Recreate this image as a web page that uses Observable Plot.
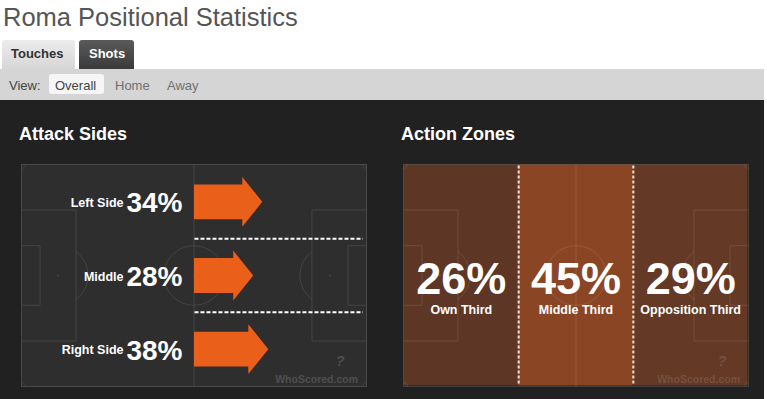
<!DOCTYPE html>
<html>
<head>
<meta charset="utf-8">
<script src="https://cdn.jsdelivr.net/npm/d3@7"></script>
<script src="https://cdn.jsdelivr.net/npm/@observablehq/plot@0.6"></script>
<style>
  html, body { margin: 0; padding: 0; background: #ffffff; }
  body { width: 767px; height: 399px; position: relative; overflow: hidden;
         font-family: 'Liberation Sans', Arial, Helvetica, sans-serif; }
  .abs { position: absolute; }
  .t { position: absolute; line-height: 1; white-space: nowrap; }
  .plotbox { position: absolute; }
  .plotbox svg { display: block; overflow: visible; }
</style>
</head>
<body>
<div id="root"></div>
<script>
// ---------- data ----------
const chartTitle = "Roma Positional Statistics";
const tabLabels = ["Touches", "Shots"];
const viewLabels = ["Overall", "Home", "Away"];
const panelTitles = ["Attack Sides", "Action Zones"];

const sideLabels = ["Left Side", "Middle", "Right Side"];
const sideValues = [34, 28, 38];

const zoneLabels = ["Own Third", "Middle Third", "Opposition Third"];
const zoneValues = [26, 45, 29];

const watermark = "WhoScored.com";

// ---------- helpers ----------
const FONT = "'Liberation Sans', Arial, Helvetica, sans-serif";
const root = document.getElementById("root");
function box(x, y, w, h, css) {
  const d = document.createElement("div");
  d.className = "abs";
  Object.assign(d.style, {left: x + "px", top: y + "px", width: w + "px", height: h + "px"}, css || {});
  root.appendChild(d);
  return d;
}
function text(str, x, baseline, size, css) {
  const d = document.createElement("div");
  d.className = "t";
  d.textContent = str;
  Object.assign(d.style, {left: x + "px", top: (baseline - 0.8465 * size) + "px", fontSize: size + "px"}, css || {});
  root.appendChild(d);
  return d;
}

// ---------- header ----------
text(chartTitle, 3, 27, 25.5, {color: "#555555"});

box(2, 40, 73, 30, {background: "linear-gradient(#ececec, #d6d6d6)", borderRadius: "3px 3px 0 0"});
text(tabLabels[0], 11, 58, 13, {color: "#333333", fontWeight: "bold"});
box(79, 40, 55, 29, {background: "linear-gradient(#5a5a5a, #3a3a3a)", borderRadius: "3px 3px 0 0"});
text(tabLabels[1], 89, 58, 13, {color: "#ffffff", fontWeight: "bold"});

box(0, 69, 764, 31, {background: "#d5d5d5"});
text("View:", 9, 90, 13, {color: "#444444"});
box(49, 74, 55, 20, {background: "#f6f6f6", borderRadius: "3px"});
text(viewLabels[0], 55, 90, 13, {color: "#444444"});
text(viewLabels[1], 115, 90, 13, {color: "#707070"});
text(viewLabels[2], 167, 90, 13, {color: "#707070"});

// dark panel
box(0, 100, 764, 299, {background: "#212121"});
text(panelTitles[0], 19, 140, 18, {color: "#ffffff", fontWeight: "bold"});
text(panelTitles[1], 401, 140, 18, {color: "#ffffff", fontWeight: "bold"});

// ---------- pitch geometry (metres, 105 x 68) ----------
const PW = 105, PH = 68;
const pitchPaths = [];
function addPath(id, pts) { pts.forEach(([x, y]) => pitchPaths.push({id, x, y})); }
function arc(id, cx, cy, r, a0, a1, n) {
  const pts = [];
  for (let i = 0; i <= n; i++) {
    const a = a0 + (a1 - a0) * i / n;
    pts.push([cx + r * Math.cos(a), cy + r * Math.sin(a)]);
  }
  addPath(id, pts);
}
addPath("half", [[PW / 2, 0], [PW / 2, PH]]);
addPath("penL", [[0, 13.84], [16.5, 13.84], [16.5, 54.16], [0, 54.16]]);
addPath("penR", [[PW, 13.84], [PW - 16.5, 13.84], [PW - 16.5, 54.16], [PW, 54.16]]);
addPath("goalL", [[0, 24.84], [5.5, 24.84], [5.5, 43.16], [0, 43.16]]);
addPath("goalR", [[PW, 24.84], [PW - 5.5, 24.84], [PW - 5.5, 43.16], [PW, 43.16]]);
arc("centre", PW / 2, PH / 2, 9.15, 0, 2 * Math.PI, 72);
const dA = Math.acos(5.5 / 9.15);
arc("dL", 11, PH / 2, 9.15, -dA, dA, 24);
arc("dR", PW - 11, PH / 2, 9.15, Math.PI - dA, Math.PI + dA, 24);
arc("c1", 0, 0, 1, 0, Math.PI / 2, 8);
arc("c2", PW, 0, 1, Math.PI / 2, Math.PI, 8);
arc("c3", 0, PH, 1, -Math.PI / 2, 0, 8);
arc("c4", PW, PH, 1, Math.PI, 1.5 * Math.PI, 8);
const spots = [{x: 11, y: PH / 2}, {x: PW / 2, y: PH / 2}, {x: PW - 11, y: PH / 2}];

const PLOT_W = 345, PLOT_H = 222;
const baseOpts = {
  width: PLOT_W, height: PLOT_H,
  marginTop: 0, marginRight: 0, marginBottom: 0, marginLeft: 0,
  x: {domain: [0, PW], range: [0.5, PLOT_W - 0.5], axis: null},
  y: {domain: [0, PH], range: [0.5, PLOT_H - 0.5], axis: null},
  style: {background: "transparent", overflow: "visible", fontFamily: FONT, color: "#ffffff"}
};
function pitchMarks(lineColor) {
  return [
    Plot.line(pitchPaths, {x: "x", y: "y", z: "id", stroke: lineColor, strokeWidth: 1, curve: "linear"}),
    Plot.dot(spots, {x: "x", y: "y", r: 1, fill: lineColor, stroke: null})
  ];
}
function watermarkMarks(color) {
  return [
    Plot.text([watermark], {x: PW, y: PH, dx: -8, dy: -6.5, text: d => d, textAnchor: "end",
      fontSize: 10.5, fontWeight: "bold", fill: color}),
    Plot.text(["?"], {x: PW, y: PH, dx: -26, dy: -25, text: d => d, textAnchor: "middle",
      fontSize: 15, fontWeight: "bold", fontStyle: "italic", fill: color})
  ];
}

// ---------- Attack Sides ----------
const laneH = PH / sideLabels.length;
const lanes = sideLabels.map((label, i) => ({label, value: sideValues[i], yc: (i + 0.5) * laneH}));
const arrowLen = d3.scaleLinear().domain([0, 100]).range([5.2, 51.2]); // value -> arrow length (m)
const bodyHalf = 5.36, headHalf = 7.66, headLen = 6.1;
const arrowPts = lanes.flatMap(d => {
  const x0 = PW / 2, t = x0 + arrowLen(d.value), yc = d.yc;
  return [
    [x0, yc - bodyHalf], [t - headLen, yc - bodyHalf], [t - headLen, yc - headHalf], [t, yc],
    [t - headLen, yc + headHalf], [t - headLen, yc + bodyHalf], [x0, yc + bodyHalf]
  ].map(([x, y]) => ({label: d.label, x, y}));
});
const laneBounds = d3.range(1, sideLabels.length).map(i => i * laneH);

const attack = Plot.plot({
  ...baseOpts,
  marks: [
    Plot.frame({fill: "#2e2e2e", stroke: "#4a4a4a"}),
    ...pitchMarks("#454545"),
    Plot.ruleY(laneBounds, {x1: PW / 2 + 0.3, x2: PW - 0.8, stroke: "#ffffff", strokeWidth: 2, strokeDasharray: "4,2"}),
    Plot.line(arrowPts, {x: "x", y: "y", z: "label", fill: "#ea5f1a", stroke: "none", curve: "linear"}),
    Plot.text(lanes, {x: () => PW / 2, y: "yc", dx: -11.5, dy: 1.5, text: d => d.value + "%", textAnchor: "end",
      fontSize: 28, fontWeight: "bold", fill: "#ffffff"}),
    Plot.text(lanes, {x: () => PW / 2, y: "yc", dx: -70.5, dy: 1, text: "label", textAnchor: "end",
      fontSize: 12.5, fontWeight: "bold", fill: "#ffffff"}),
    ...watermarkMarks("#4e4e4e")
  ]
});
const a = document.createElement("div");
a.className = "plotbox";
a.style.left = "21px"; a.style.top = "164px";
a.appendChild(attack);
root.appendChild(a);

// ---------- Action Zones ----------
const zoneW = PW / zoneLabels.length;
const zones = zoneLabels.map((label, i) => ({label, value: zoneValues[i], x1: i * zoneW, x2: (i + 1) * zoneW, xc: (i + 0.5) * zoneW}));
const zoneBounds = d3.range(1, zoneLabels.length).map(i => i * zoneW);

const action = Plot.plot({
  ...baseOpts,
  color: {type: "linear", domain: [20, 45], range: ["#4f3127", "#8a4624"]},
  marks: [
    Plot.rect(zones, {x1: "x1", x2: "x2", y1: () => 0, y2: () => PH, fill: "value"}),
    ...pitchMarks("rgba(255,255,255,0.11)"),
    Plot.frame({stroke: "rgba(255,255,255,0.14)"}),
    Plot.ruleX(zoneBounds, {y1: 0.3, y2: PH - 0.3, stroke: "#fbe3d3", strokeWidth: 2, strokeDasharray: "3,2"}),
    Plot.text(zones, {x: "xc", y: () => PH / 2, dy: 3.6, text: d => d.value + "%", textAnchor: "middle",
      fontSize: 45, fontWeight: "bold", fill: "#ffffff"}),
    Plot.text(zones, {x: "xc", y: () => PH / 2, dy: 34.5, text: "label", textAnchor: "middle",
      fontSize: 12.5, fontWeight: "bold", fill: "#ffffff"}),
    ...watermarkMarks("rgba(255,255,255,0.13)")
  ]
});
const b = document.createElement("div");
b.className = "plotbox";
b.style.left = "403px"; b.style.top = "164px";
b.appendChild(action);
root.appendChild(b);
</script>
</body>
</html>
